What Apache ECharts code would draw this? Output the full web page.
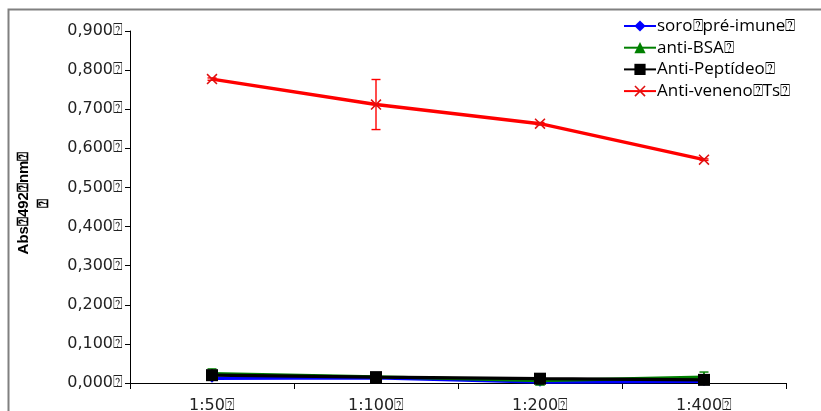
<!DOCTYPE html>
<html>
<head>
<meta charset="utf-8">
<script src="https://cdn.jsdelivr.net/npm/echarts@6/dist/echarts.min.js"></script>
<style>
html,body{margin:0;padding:0;background:#fff;}
#main{width:821px;height:411px;}
</style>
</head>
<body>
<div id="main"></div>
<script>
var T = '\u2370';
var categories = ['1:50' + T, '1:100' + T, '1:200' + T, '1:400' + T];
var seriesNames = ['soro' + T + 'pré-imune' + T, 'anti-BSA' + T, 'Anti-Peptídeo' + T, 'Anti-veneno' + T + 'Ts' + T];
var soroPreImune = [0.012, 0.013, 0.002, 0.004];
var antiBSA = [0.024, 0.016, 0.006, 0.015];
var antiPeptideo = [0.020, 0.015, 0.011, 0.008];
var antiVeneno = [0.777, 0.712, 0.663, 0.571];
var antiBSAErr = [0.012, 0.002, 0.002, 0.013];
var antiVenenoErr = [0.003, 0.064, 0.003, 0.002];
var yTicks = [0, 0.1, 0.2, 0.3, 0.4, 0.5, 0.6, 0.7, 0.8, 0.9];
var yName = 'Abs' + T + '492' + T + 'nm' + T + '\n' + T;

function errData(vals, errs) {
  return vals.map(function (v, i) { return [i, v - errs[i], v + errs[i]]; });
}
function errSeries(vals, errs, color) {
  return {
    type: 'custom',
    silent: true,
    z: 1,
    data: errData(vals, errs),
    renderItem: function (params, api) {
      var x = api.value(0);
      var lo = api.coord([x, api.value(1)]);
      var hi = api.coord([x, api.value(2)]);
      var w = 4.5;
      var st = { stroke: color, lineWidth: 1.4 };
      return {
        type: 'group',
        children: [
          { type: 'line', shape: { x1: lo[0], y1: lo[1], x2: hi[0], y2: hi[1] }, style: st },
          { type: 'line', shape: { x1: lo[0] - w, y1: lo[1], x2: lo[0] + w, y2: lo[1] }, style: st },
          { type: 'line', shape: { x1: hi[0] - w, y1: hi[1], x2: hi[0] + w, y2: hi[1] }, style: st }
        ]
      };
    }
  };
}

var cross = 'path://M0,1L1,0L5,4L9,0L10,1L6,5L10,9L9,10L5,6L1,10L0,9L4,5Z';
var chart = echarts.init(document.getElementById('main'));
chart.setOption({
  animation: false,
  backgroundColor: '#fff',
  textStyle: { fontFamily: 'DejaVu Sans' },
  graphic: [{
    type: 'rect', left: 6, top: 7, shape: { width: 900, height: 500 },
    style: { fill: 'none', stroke: '#808080', lineWidth: 2 }, silent: true
  }],
  legend: {
    orient: 'vertical',
    left: 618, top: 11,
    itemWidth: 32, itemHeight: 14, itemGap: 1.7,
    textStyle: { fontFamily: 'Open Sans', fontSize: 17, lineHeight: 20, color: '#000', padding: [0, 0, 0, -4] },
    data: seriesNames
  },
  grid: { left: 130, right: 35, top: 31, bottom: 28, outerBoundsMode: 'none', containLabel: false },
  xAxis: {
    type: 'category',
    data: categories,
    boundaryGap: true,
    axisLine: { lineStyle: { color: '#000', width: 1 } },
    axisTick: { show: true, length: 6, lineStyle: { color: '#000' } },
    axisLabel: { fontSize: 16, color: '#222', margin: 15, fontFamily: 'DejaVu Sans' }
  },
  yAxis: {
    type: 'value',
    min: 0, max: 0.9, interval: 0.1,
    name: yName,
    nameLocation: 'middle',
    nameRotate: 90,
    nameGap: 76,
    nameTextStyle: { fontFamily: 'Liberation Sans Narrow, Liberation Sans', fontWeight: 'bold', fontSize: 15, color: '#000', lineHeight: 20, padding: [0, 0, 0, 8] },
    splitLine: { show: false },
    axisLine: { show: true, lineStyle: { color: '#000', width: 1 } },
    axisTick: { show: true, length: 5, lineStyle: { color: '#000' } },
    axisLabel: {
      fontSize: 16, color: '#222', margin: 7, fontFamily: 'DejaVu Sans',
      formatter: function (v) { return v.toFixed(3).replace('.', ',') + T; }
    }
  },
  series: [
    errSeries(antiBSA, antiBSAErr, '#008000'),
    errSeries(antiVeneno, antiVenenoErr, '#ff0000'),
    {
      name: seriesNames[0], type: 'line', data: soroPreImune,
      symbol: 'diamond', symbolSize: 9,
      lineStyle: { color: '#0000ff', width: 3.2 }, itemStyle: { color: '#0000ff' }
    },
    {
      name: seriesNames[1], type: 'line', data: antiBSA,
      symbol: 'triangle', symbolSize: 10,
      lineStyle: { color: '#008000', width: 3.2 }, itemStyle: { color: '#008000' }
    },
    {
      name: seriesNames[2], type: 'line', data: antiPeptideo,
      symbol: 'rect', symbolSize: 12,
      lineStyle: { color: '#000', width: 3.2 }, itemStyle: { color: '#000' }
    },
    {
      name: seriesNames[3], type: 'line', data: antiVeneno,
      symbol: cross, symbolSize: 11,
      lineStyle: { color: '#ff0000', width: 3.4 }, itemStyle: { color: '#e01010' }
    }
  ]
});
</script>
</body>
</html>
